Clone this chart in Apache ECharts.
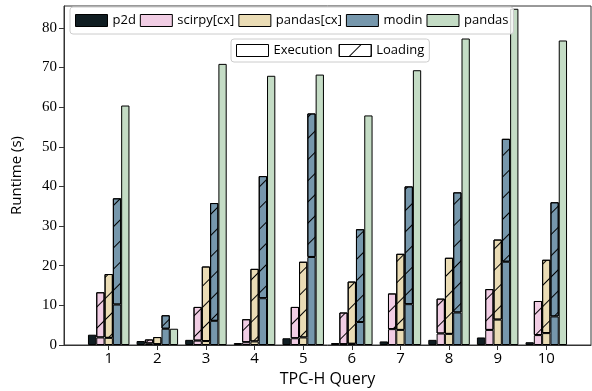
<!DOCTYPE html>
<html>
<head>
<meta charset="utf-8">
<script src="https://cdn.jsdelivr.net/npm/echarts@6/dist/echarts.min.js"></script>
<style>
  html, body { margin: 0; padding: 0; background: #fff; }
  #chart { width: 592px; height: 391px; }
</style>
</head>
<body>
<div id="chart"></div>
<script>
  // TPC-H queries on the x axis
  var queries = ['1', '2', '3', '4', '5', '6', '7', '8', '9', '10'];
  var yTicks = [0, 10, 20, 30, 40, 50, 60, 70, 80];

  // runtimes in seconds, execution part and loading part
  var p2dExec = [2.6, 1.0, 1.3, 0.5, 1.7, 0.5, 0.9, 1.3, 1.9, 0.7];
  var scirpyExec = [1.9, 0.4, 1.1, 0.7, 1.7, 0.2, 4.0, 2.9, 3.8, 2.5];
  var scirpyLoad = [11.4, 1.0, 8.5, 5.8, 7.9, 8.0, 9.0, 8.8, 10.3, 8.6];
  var pcxExec = [1.8, 0.2, 1.0, 0.9, 1.9, 0.3, 3.8, 2.8, 6.4, 3.0];
  var pcxLoad = [16.1, 1.8, 18.8, 18.3, 19.1, 15.7, 19.2, 19.2, 20.2, 18.5];
  var modinExec = [10.2, 4.1, 6.1, 11.8, 22.2, 5.8, 10.3, 8.2, 21.0, 7.2];
  var modinLoad = [26.8, 3.4, 29.7, 30.8, 36.2, 23.4, 29.7, 30.3, 31.0, 28.8];
  var pandasExec = [60.4, 4.1, 70.9, 67.9, 68.2, 57.9, 69.3, 77.3, 84.8, 76.8];

  var systems = [
    {name: 'p2d', color: '#101d22', exec: p2dExec, load: null},
    {name: 'scirpy[cx]', color: '#f1cde4', exec: scirpyExec, load: scirpyLoad},
    {name: 'pandas[cx]', color: '#eadcb5', exec: pcxExec, load: pcxLoad},
    {name: 'modin', color: '#7697ac', exec: modinExec, load: modinLoad},
    {name: 'pandas', color: '#c4dcc5', exec: pandasExec, load: null}
  ];

  var hatch = {
    symbol: 'rect',
    symbolSize: 1,
    dashArrayX: [1, 0],
    dashArrayY: [1, 14],
    rotation: -Math.PI / 4,
    color: '#000'
  };

  var series = [];
  systems.forEach(function (s) {
    series.push({
      name: s.name, type: 'bar', stack: s.name,
      xAxisIndex: 1, yAxisIndex: 1,
      barWidth: 8.3, barGap: '0%',
      data: s.exec,
      itemStyle: {color: s.color, borderColor: '#000', borderWidth: 1}
    });
    if (s.load) {
      series.push({
        name: s.name, type: 'bar', stack: s.name,
        xAxisIndex: 1, yAxisIndex: 1,
        barWidth: 8.3, barGap: '0%',
        data: s.load,
        itemStyle: {color: s.color, borderColor: '#000', borderWidth: 1, decal: hatch}
      });
    }
  });
  // legend-only entries
  series.push({name: 'Execution', type: 'bar', xAxisIndex: 0, yAxisIndex: 0, data: []});
  series.push({name: 'Loading', type: 'bar', xAxisIndex: 0, yAxisIndex: 0, data: []});

  var legendText = {fontFamily: 'Open Sans', fontSize: 13, color: '#000'};
  var axisColor = '#333';

  var myChart = echarts.init(document.getElementById('chart'));
  var option = {
    animation: false,
    grid: [
      // frame
      {left: 64, right: 1, top: 6, bottom: 46, show: true, borderColor: axisColor, borderWidth: 1, outerBoundsMode: 'none'},
      // bars: category bands placed under the query ticks
      {left: 84.4, right: 21.4, top: 6, bottom: 46, outerBoundsMode: 'none'}
    ],
    legend: [
      {
        left: 70, top: 7,
        padding: [7, 5, 7, 5],
        itemWidth: 32, itemHeight: 12, itemGap: 4,
        icon: 'rect',
        selectedMode: false,
        backgroundColor: 'rgba(255,255,255,0.8)',
        borderColor: '#ccc', borderWidth: 1, borderRadius: 3,
        textStyle: legendText,
        data: systems.map(function (s) {
          return {name: s.name, itemStyle: {color: s.color, borderColor: '#000', borderWidth: 1, decal: 'none'}};
        })
      },
      {
        left: 231, top: 39,
        padding: [5, 5, 5, 5],
        itemWidth: 32, itemHeight: 12, itemGap: 6,
        icon: 'rect',
        selectedMode: false,
        backgroundColor: 'rgba(255,255,255,0.8)',
        borderColor: '#ccc', borderWidth: 1, borderRadius: 3,
        textStyle: legendText,
        data: [
          {name: 'Execution', itemStyle: {color: '#fff', borderColor: '#000', borderWidth: 1}},
          {name: 'Loading', itemStyle: {color: '#fff', borderColor: '#000', borderWidth: 1, decal: hatch}}
        ]
      }
    ],
    xAxis: [
      {
        gridIndex: 0,
        type: 'value',
        min: 0, max: 1,
        name: 'TPC-H Query',
        nameLocation: 'middle',
        nameGap: 26,
        nameTextStyle: {fontFamily: 'Open Sans', fontSize: 16, color: '#000'},
        axisLine: {lineStyle: {color: axisColor}},
        axisTick: {show: false},
        axisLabel: {show: false},
        splitLine: {show: false}
      },
      {
        gridIndex: 1,
        type: 'category',
        data: queries,
        axisLine: {show: false},
        axisTick: {show: true, alignWithLabel: true, length: 5, lineStyle: {color: axisColor}},
        axisLabel: {margin: 6, fontFamily: 'Open Sans', fontSize: 15, color: '#000'},
        splitLine: {show: false}
      }
    ],
    yAxis: [
      {
        gridIndex: 0,
        type: 'value',
        min: 0, max: 85.5,
        name: 'Runtime (s)',
        nameLocation: 'middle',
        nameGap: 40,
        nameTextStyle: {fontFamily: 'Open Sans', fontSize: 15, color: '#000'},
        axisLine: {show: true, lineStyle: {color: axisColor}},
        axisTick: {show: true, length: 5, customValues: yTicks, lineStyle: {color: axisColor}},
        axisLabel: {customValues: yTicks, margin: 7, fontFamily: 'Liberation Serif', fontSize: 15, color: '#000'},
        splitLine: {show: false}
      },
      {
        gridIndex: 1,
        type: 'value',
        min: 0, max: 85.5,
        show: false,
        splitLine: {show: false}
      }
    ],
    series: series
  };
  myChart.setOption(option);
</script>
</body>
</html>
